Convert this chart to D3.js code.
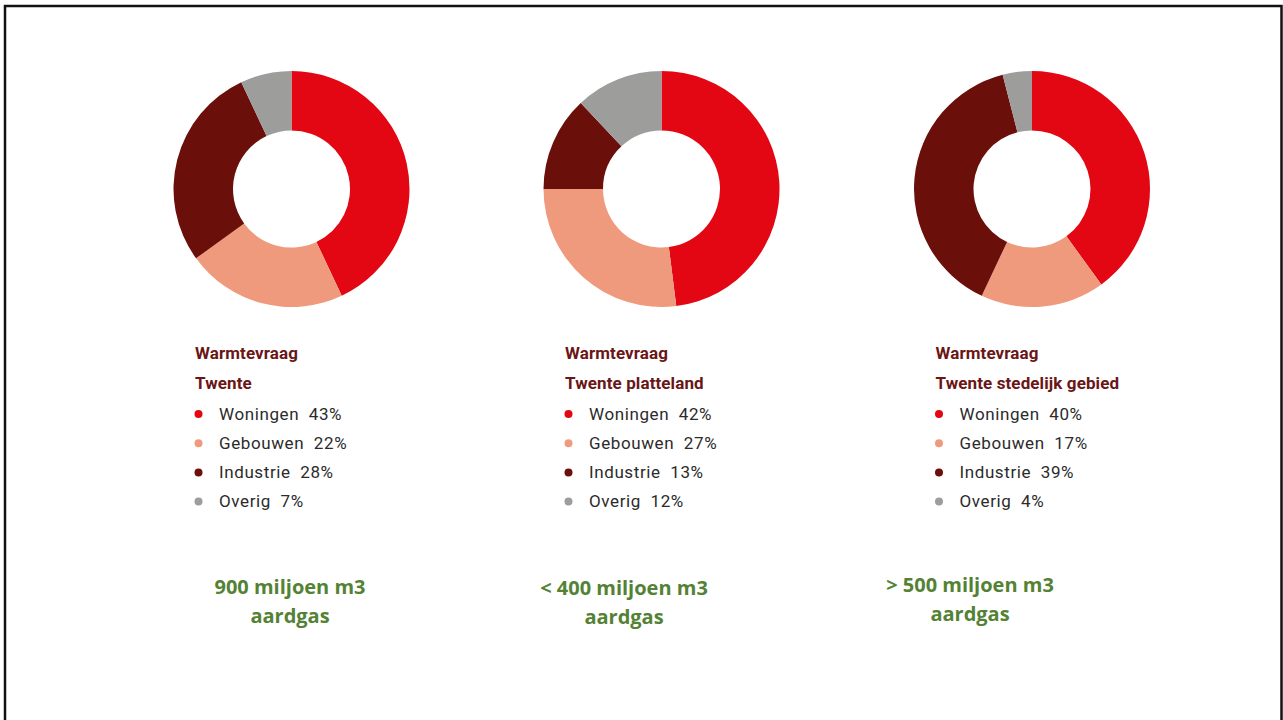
<!DOCTYPE html>
<html>
<head>
<meta charset="utf-8">
<script src="https://cdn.jsdelivr.net/npm/d3@7"></script>
<style>
  html, body { margin: 0; padding: 0; background: #fff; }
  svg { display: block; }
</style>
</head>
<body>
<svg id="chart" width="1283" height="720"></svg>
<script>
// ---- data ----
const categories = ["Woningen", "Gebouwen", "Industrie", "Overig"];
const regionTitles = ["Twente", "Twente platteland", "Twente stedelijk gebied"];
const headerTitle = "Warmtevraag";
// shares as drawn in the donuts (read from the arcs)
const sharesTwente = [43, 22, 28, 7];
const sharesPlatteland = [48, 27, 13, 12];
const sharesStedelijk = [40, 17, 39, 4];
// percentages printed in the legends
const labelsTwente = ["43%", "22%", "28%", "7%"];
const labelsPlatteland = ["42%", "27%", "13%", "12%"];
const labelsStedelijk = ["40%", "17%", "39%", "4%"];
// gas volume notes
const gasLine1 = ["900 miljoen m3", "< 400 miljoen m3", "> 500 miljoen m3"];
const gasLine2 = ["aardgas", "aardgas", "aardgas"];

// ---- styling / layout ----
const colors = ["#e30613", "#f09a7d", "#6b0f0a", "#9d9d9c"];
const color = d3.scaleOrdinal().domain(categories).range(colors);
const centersX = [291.5, 661.5, 1032];
const centerY = 189;
const outerR = 118, innerR = 58.5;
const gasX = [290, 624, 970];
const gasY = [594, 595, 592];

const svg = d3.select("#chart");

// frame
svg.append("rect")
  .attr("x", 5).attr("y", 6)
  .attr("width", 1276.5).attr("height", 730)
  .attr("fill", "none").attr("stroke", "#111").attr("stroke-width", 2.5);

const series = [
  { shares: sharesTwente, labels: labelsTwente },
  { shares: sharesPlatteland, labels: labelsPlatteland },
  { shares: sharesStedelijk, labels: labelsStedelijk }
];

const pie = d3.pie().sort(null).value(d => d.v);
const arc = d3.arc().innerRadius(innerR).outerRadius(outerR);

series.forEach((s, i) => {
  const data = categories.map((c, k) => ({ c, v: s.shares[k] }));
  const g = svg.append("g").attr("transform", `translate(${centersX[i]},${centerY})`);
  g.selectAll("path")
    .data(pie(data))
    .join("path")
    .attr("d", arc)
    .attr("fill", d => color(d.data.c));

  // legend
  const lx = centersX[i] - 96.5;
  const lg = svg.append("g").attr("transform", `translate(${lx},0)`);
  lg.append("text")
    .attr("x", 0).attr("y", 359)
    .attr("font-family", "Roboto, 'Liberation Sans', sans-serif")
    .attr("font-weight", 700).attr("font-size", 17)
    .attr("letter-spacing", 0.1)
    .attr("fill", "#6a1616")
    .text(headerTitle);
  lg.append("text")
    .attr("x", 0).attr("y", 389)
    .attr("font-family", "Roboto, 'Liberation Sans', sans-serif")
    .attr("font-weight", 700).attr("font-size", 17)
    .attr("letter-spacing", 0.1)
    .attr("fill", "#6a1616")
    .text(regionTitles[i]);

  const items = lg.selectAll("g.item")
    .data(categories.map((c, k) => ({ c, label: s.labels[k] })))
    .join("g")
    .attr("class", "item")
    .attr("transform", (d, k) => `translate(0,${419.5 + k * 29.2})`);
  items.append("circle")
    .attr("cx", 3.5).attr("cy", -5.5).attr("r", 4)
    .attr("fill", d => color(d.c));
  items.append("text")
    .attr("x", 24).attr("y", 0)
    .attr("font-family", "Roboto, 'Liberation Sans', sans-serif")
    .attr("font-weight", 400).attr("font-size", 17)
    .attr("letter-spacing", 0.6)
    .attr("fill", "#2b2b2b")
    .attr("xml:space", "preserve")
    .text(d => d.c + "  " + d.label);

  // gas note
  const note = svg.append("text")
    .attr("text-anchor", "middle")
    .attr("font-family", "'Open Sans', 'Liberation Sans', sans-serif")
    .attr("font-weight", 700).attr("font-size", 20)
    .attr("fill", "#548235");
  note.append("tspan").attr("x", gasX[i]).attr("y", gasY[i]).text(gasLine1[i]);
  note.append("tspan").attr("x", gasX[i]).attr("y", gasY[i] + 29).text(gasLine2[i]);
});
</script>
</body>
</html>
